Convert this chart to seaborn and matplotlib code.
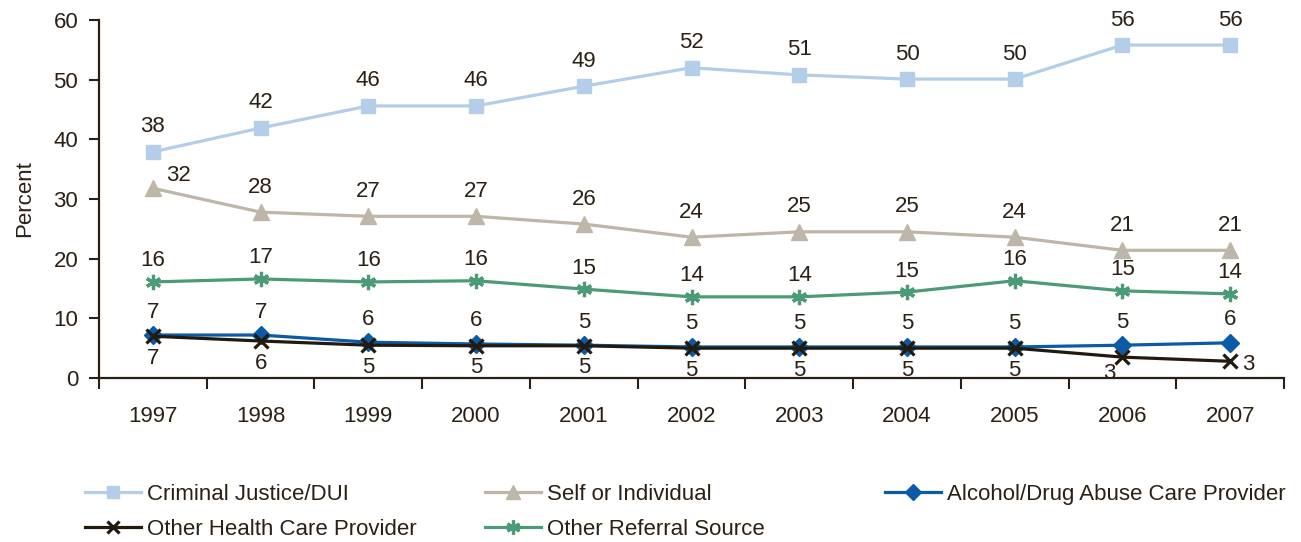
import matplotlib
matplotlib.use("Agg")
import matplotlib.pyplot as plt
import seaborn as sns
import pandas as pd
import numpy as np
from matplotlib.lines import Line2D

years = [1997, 1998, 1999, 2000, 2001, 2002, 2003, 2004, 2005, 2006, 2007]
criminal = [37.9, 41.9, 45.6, 45.6, 48.9, 52.0, 50.8, 50.1, 50.1, 55.8, 55.8]
self_ind = [31.8, 27.8, 27.1, 27.1, 25.8, 23.6, 24.5, 24.5, 23.6, 21.4, 21.4]
alcohol = [7.2, 7.2, 6.0, 5.7, 5.5, 5.2, 5.2, 5.2, 5.2, 5.5, 5.9]
other_health = [7.0, 6.2, 5.5, 5.4, 5.4, 5.0, 5.0, 5.0, 5.0, 3.5, 2.8]
other_ref = [16.1, 16.6, 16.1, 16.3, 14.9, 13.6, 13.6, 14.4, 16.3, 14.6, 14.1]

crim_lbl = [38, 42, 46, 46, 49, 52, 51, 50, 50, 56, 56]
self_lbl = [32, 28, 27, 27, 26, 24, 25, 25, 24, 21, 21]
alc_lbl = [7, 7, 6, 6, 5, 5, 5, 5, 5, 5, 6]
oh_lbl = [7, 6, 5, 5, 5, 5, 5, 5, 5, 3, 3]
ref_lbl = [16, 17, 16, 16, 15, 14, 14, 15, 16, 15, 14]

names = ["Criminal Justice/DUI", "Self or Individual", "Alcohol/Drug Abuse Care Provider",
         "Other Health Care Provider", "Other Referral Source"]
series = [criminal, self_ind, alcohol, other_health, other_ref]
colors = ["#b4cde9", "#bdb6a9", "#0b5aa8", "#231a0e", "#4b9a78"]
markers = ["s", "^", "D", "x", (6, 2, 0)]
msizes = [10, 11, 9, 10, 11]

textc = "#2b2015"
plt.rcParams['font.family'] = ['Liberation Sans', 'DejaVu Sans']
plt.rcParams['text.color'] = textc
plt.rcParams['axes.labelcolor'] = textc
plt.rcParams['xtick.color'] = textc
plt.rcParams['ytick.color'] = textc

rows = []
for n, s in zip(names, series):
    for i, v in enumerate(s):
        rows.append({"x": i, "Percent": v, "Source": n})
df = pd.DataFrame(rows)

fig = plt.figure(figsize=(13.01, 5.42), dpi=100)
ax = fig.add_axes([99/1301, 1 - 378/542, (1284-99)/1301, (378-20)/542])

sns.lineplot(data=df, x="x", y="Percent", hue="Source", hue_order=names,
             palette=dict(zip(names, colors)), ax=ax, legend=False, linewidth=2.3)
lines = ax.get_lines()
for ln, m, ms, c in zip(lines, markers, msizes, colors):
    ln.set_marker(m)
    ln.set_markersize(ms)
    ln.set_markerfacecolor(c)
    ln.set_markeredgecolor(c)
    ln.set_markeredgewidth(2.3 if (m == "x" or isinstance(m, tuple)) else 1)

lines[3].set_zorder(3)
lines[2].set_zorder(2.5)

fs = 16
def lab(i, v, t, dx, dy):
    ax.annotate(str(t), (i, v), xytext=(dx, dy), textcoords="offset pixels",
                ha="center", va="center", fontsize=fs, color=textc)

for i in range(11):
    lab(i, criminal[i], crim_lbl[i], 0, 25)
    if i == 0:
        lab(i, self_ind[i], self_lbl[i], 26, 13)
    else:
        lab(i, self_ind[i], self_lbl[i], 0, 25)
    lab(i, other_ref[i], ref_lbl[i], 0, 21)
    lab(i, alcohol[i], alc_lbl[i], 0, 23)
    if i == 9:
        lab(i, other_health[i], oh_lbl[i], -13, -16)
    elif i == 10:
        lab(i, other_health[i], oh_lbl[i], 18, -3)
    else:
        lab(i, other_health[i], oh_lbl[i], 0, -22)

ax.set_xlim(-0.5, 10.5)
ax.set_ylim(0, 60)
ax.set_yticks([0, 10, 20, 30, 40, 50, 60])
ax.set_xticks(np.arange(-0.5, 11, 1))
ax.set_xticklabels([])
ax.set_xticks(np.arange(0, 11), minor=True)
ax.set_xticklabels([str(y) for y in years], minor=True)
ax.tick_params(axis="x", which="minor", length=0, pad=20, labelsize=fs)
ax.tick_params(axis="x", which="major", length=8, width=1.5, direction="out", color=textc)
ax.tick_params(axis="y", length=7, width=1.5, direction="out", labelsize=fs, pad=8, color=textc)
ax.set_xlabel("")
ax.set_ylabel("Percent", fontsize=fs, labelpad=13)
for sp in ["top", "right"]:
    ax.spines[sp].set_visible(False)
for sp in ["left", "bottom"]:
    ax.spines[sp].set_color(textc)
    ax.spines[sp].set_linewidth(1.6)

def handle(idx):
    m = markers[idx]
    return Line2D([], [], color=colors[idx], marker=m, markersize=msizes[idx] - 1,
                  markerfacecolor=colors[idx], markeredgecolor=colors[idx],
                  markeredgewidth=2.3 if (m == "x" or isinstance(m, tuple)) else 1, linewidth=2.3)

cols = [([0, 3], 85), ([1, 4], 485), ([2], 885)]
for idxs, xpx in cols:
    fig.legend([handle(i) for i in idxs], [names[i] for i in idxs],
               loc="upper left", bbox_to_anchor=(xpx/1301, 1 - 484/542),
               frameon=False, fontsize=fs, handlelength=2.5, handletextpad=0.3,
               labelspacing=0.62, borderaxespad=0, borderpad=0)

fig.savefig("out.png", dpi=100, facecolor="white")
